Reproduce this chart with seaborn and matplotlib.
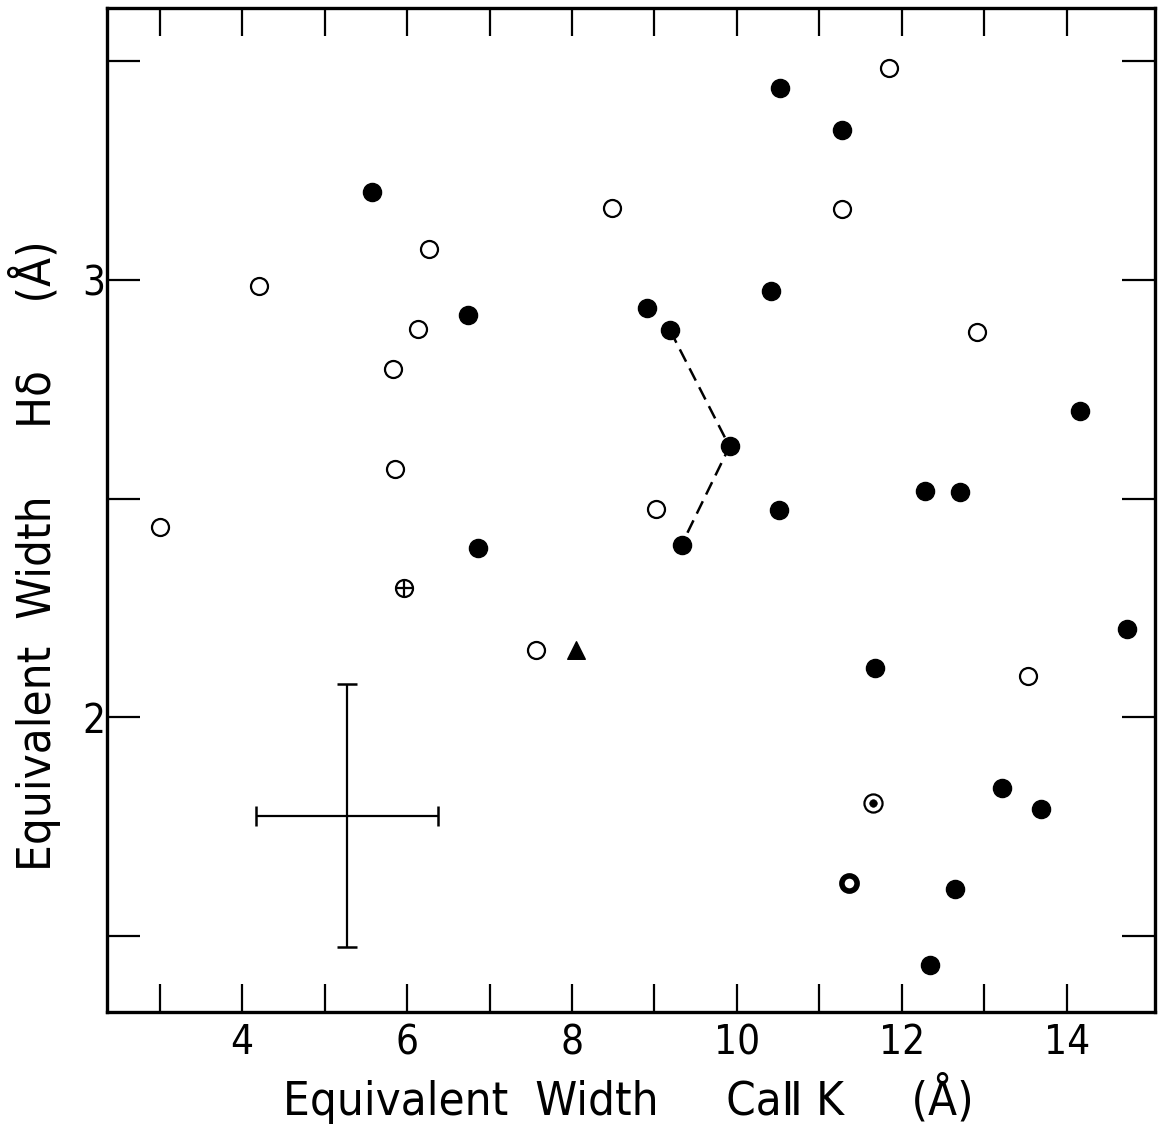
import numpy as np
import pandas as pd
import matplotlib
matplotlib.use("Agg")
import matplotlib.pyplot as plt
import seaborn as sns

# Ca II K equivalent width (x) vs H-delta equivalent width (y), in Angstrom
open_x = [3.00, 4.21, 6.26, 6.13, 5.83, 5.85, 7.56, 8.48, 9.02, 11.27, 11.85, 12.91, 13.53]
open_y = [2.436, 2.986, 3.071, 2.888, 2.797, 2.568, 2.155, 3.164, 2.477, 3.162, 3.484, 2.881, 2.094]

filled_x = [5.57, 6.74, 6.86, 8.91, 9.19, 9.91, 9.33, 10.52, 11.28, 10.41, 10.51,
            12.28, 12.71, 14.16, 14.73, 11.67, 13.21, 13.69, 12.65, 12.34]
filled_y = [3.201, 2.920, 2.386, 2.936, 2.884, 2.619, 2.395, 3.438, 3.342, 2.975, 2.475,
            2.518, 2.514, 2.701, 2.201, 2.114, 1.838, 1.790, 1.607, 1.434]

# same object measured more than once, joined by the dashed line
linked_x = [9.19, 9.91, 9.33]
linked_y = [2.884, 2.619, 2.395]

plus_x, plus_y = [5.96], [2.295]
tri_x, tri_y = [8.05], [2.155]
dot_x, dot_y = [11.65], [1.804]
ring_x, ring_y = [11.36], [1.621]

# typical error cross
err_x, err_y = 5.27, 1.776
err_dx, err_dy = 1.10, 0.30

sns.set_style("ticks")
plt.rcParams["font.family"] = ["DejaVu Sans"]
plt.rcParams["font.stretch"] = "condensed"
plt.rcParams["font.weight"] = "light"
plt.rcParams["text.color"] = "black"
plt.rcParams["axes.labelcolor"] = "black"
plt.rcParams["xtick.color"] = "black"
plt.rcParams["ytick.color"] = "black"

fig = plt.figure(figsize=(11.75, 11.24), dpi=100)
ax = fig.add_axes([0.091, 0.0996, 0.892, 0.893])

opn = pd.DataFrame({"x": open_x, "y": open_y})
fil = pd.DataFrame({"x": filled_x, "y": filled_y})

ax.plot(linked_x, linked_y, color="black", lw=1.8, ls=(0, (5.5, 3)), zorder=1)

sns.scatterplot(data=opn, x="x", y="y", ax=ax, marker="o", s=150,
                facecolor="white", edgecolor="black", linewidth=1.6, zorder=3)
sns.scatterplot(data=fil, x="x", y="y", ax=ax, marker="o", s=170,
                color="black", edgecolor="black", linewidth=1.0, zorder=3)

sns.scatterplot(x=plus_x, y=plus_y, ax=ax, marker="o", s=150,
                facecolor="white", edgecolor="black", linewidth=1.6, zorder=3)
sns.scatterplot(x=plus_x, y=plus_y, ax=ax, marker="+", s=150,
                color="black", linewidth=1.6, zorder=4)
sns.scatterplot(x=tri_x, y=tri_y, ax=ax, marker="^", s=160,
                color="black", edgecolor="black", zorder=3)
sns.scatterplot(x=dot_x, y=dot_y, ax=ax, marker="o", s=170,
                facecolor="white", edgecolor="black", linewidth=1.6, zorder=3)
sns.scatterplot(x=dot_x, y=dot_y, ax=ax, marker="o", s=30,
                color="black", edgecolor="black", zorder=4)
sns.scatterplot(x=ring_x, y=ring_y, ax=ax, marker="o", s=120,
                facecolor="white", edgecolor="black", linewidth=4.0, zorder=3)

ax.errorbar([err_x], [err_y], xerr=[err_dx], yerr=[err_dy], fmt="none",
            ecolor="black", elinewidth=1.6, capsize=7, capthick=1.8)

ax.set_xlim(2.36, 15.07)
ax.set_ylim(1.327, 3.62)

ax.set_xticks(np.arange(3, 15, 1))
ax.set_xticklabels([str(v) if v % 2 == 0 else "" for v in range(3, 15)])
ax.set_yticks([1.5, 2.0, 2.5, 3.0, 3.5])
ax.set_yticklabels(["", "2", "", "3", ""])

ax.tick_params(axis="both", direction="in", length=20, width=1.6,
               labelsize=29, top=True, right=True, pad=8)
ax.tick_params(axis="y", length=24, pad=1)
for sp in ax.spines.values():
    sp.set_linewidth(2.4)
    sp.set_color("black")

ax.set_xlabel("Equivalent  Width     Ca\u2161 K     (\u00c5)", fontsize=34)
ax.set_ylabel("Equivalent  Width     H\u03b4     (\u00c5)", fontsize=34)
ax.xaxis.set_label_coords(0.497, -0.086)
ax.yaxis.set_label_coords(-0.069, 0.455)
ax.xaxis.label.set_va("center")
ax.yaxis.label.set_va("center")

fig.savefig("out.png", dpi=100, facecolor="white")
